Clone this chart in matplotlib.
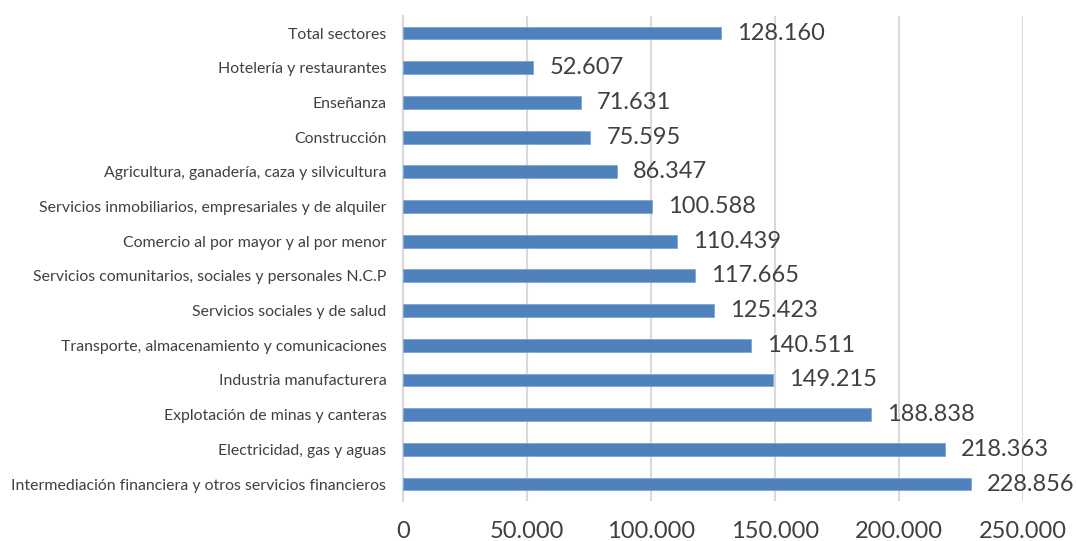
import matplotlib
matplotlib.use("Agg")
import matplotlib.pyplot as plt
from matplotlib.ticker import FuncFormatter

# datos (de arriba hacia abajo)
sectores = [
    "Total sectores",
    "Hotelería y restaurantes",
    "Enseñanza",
    "Construcción",
    "Agricultura, ganadería, caza y silvicultura",
    "Servicios inmobiliarios, empresariales y de alquiler",
    "Comercio al por mayor y al por menor",
    "Servicios comunitarios, sociales y personales N.C.P",
    "Servicios sociales y de salud",
    "Transporte, almacenamiento y comunicaciones",
    "Industria manufacturera",
    "Explotación de minas y canteras",
    "Electricidad, gas y aguas",
    "Intermediación financiera y otros servicios financieros",
]
valores = [128160, 52607, 71631, 75595, 86347, 100588, 110439, 117665,
           125423, 140511, 149215, 188838, 218363, 228856]
ticks = [0, 50000, 100000, 150000, 200000, 250000]

plt.rcParams['font.family'] = ['Lato', 'DejaVu Sans']
gris = '#404040'

fig = plt.figure(figsize=(10.76, 5.41), dpi=100)
ax = fig.add_axes([0.3745, 0.0732, 0.5763, 0.8978])

pos = list(range(len(sectores)))
ax.barh(pos, valores, height=0.37, color='#4F81BD', edgecolor='#7EA6D6', linewidth=0.6, zorder=3)

def miles(x, p=None):
    return f"{int(round(x)):,}".replace(",", ".")

for y, v in zip(pos, valores):
    ax.annotate(miles(v), (v, y), xytext=(11.5, 0), textcoords='offset points',
                ha='left', va='center', fontsize=17, color=gris)

ax.set_ylim(len(sectores) - 0.5, -0.5)
ax.set_xlim(0, 250000)
ax.set_xticks(ticks)
ax.xaxis.set_major_formatter(FuncFormatter(miles))
ax.set_yticks(pos)
ax.set_yticklabels(sectores, fontsize=11.4, color=gris)
ax.tick_params(axis='x', labelsize=17, colors=gris, length=0, pad=14)
ax.tick_params(axis='y', length=0, pad=12)
ax.grid(axis='x', color='#D9D9D9', linewidth=1.5, zorder=0)
for s in ['top', 'right', 'bottom']:
    ax.spines[s].set_visible(False)
ax.spines['left'].set_color('#D9D9D9')
ax.spines['left'].set_linewidth(1.5)

fig.savefig("out.png", dpi=100)
